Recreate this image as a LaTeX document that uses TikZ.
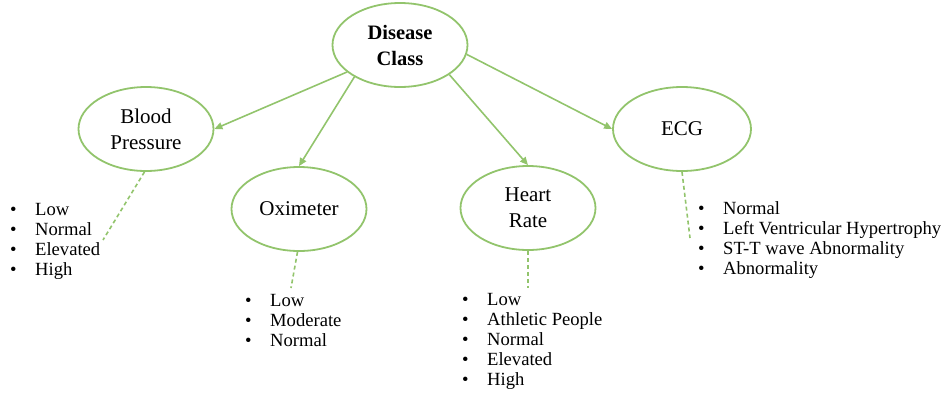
\documentclass[tikz,border=0pt]{standalone}
\usepackage{fontspec}
\setmainfont{Liberation Serif}
\usetikzlibrary{shapes.geometric,arrows.meta}
\definecolor{leaf}{RGB}{146,196,108}
\begin{document}
\begin{tikzpicture}[x=1pt,y=-1pt,
  oval/.style={draw=leaf,line width=1.8pt,ellipse,minimum width=135pt,minimum height=84pt,inner sep=0pt,align=center,font=\fontsize{21}{26}\selectfont},
  arr/.style={draw=leaf,line width=1.6pt,-{Triangle[length=8pt,width=7pt]}},
  dsh/.style={draw=leaf,line width=1.6pt,dash pattern=on 4pt off 3pt},
  lst/.style={anchor=north west,align=left,inner sep=0pt,font=\fontsize{18.6}{20}\selectfont}]
\useasboundingbox (0,0) rectangle (946,394);
\newcommand{\bul}{\makebox[25pt][l]{\textbullet}}
\node[oval,font=\bfseries\fontsize{20.5}{26}\selectfont] (dc) at (400,45) {Disease\\Class};
\node[oval] (bp) at (146,129) {Blood\\Pressure};
\node[oval] (ox) at (299,209) {Oximeter};
\node[oval] (hr) at (528,208) {Heart\\Rate};
\node[oval,minimum width=138pt] (ecg) at (682,129) {ECG};

\draw[arr] (dc.207) -- (bp.east);
\draw[arr] (dc.215) -- (ox.north);
\draw[arr] (dc.329) -- (hr.north);
\draw[arr] (dc.352) -- (ecg.west);

\node[lst] (bpl) at (10,203) {\bul Low\\\bul Normal\\\bul Elevated\\\bul High};
\node[lst] (oxl) at (245,294) {\bul Low\\\bul Moderate\\\bul Normal};
\node[lst] (hrl) at (462,293) {\bul Low\\\bul Athletic People\\\bul Normal\\\bul Elevated\\\bul High};
\node[lst] (ecgl) at (698,201) {\bul Normal\\\bul Left Ventricular Hypertrophy\\\bul ST-T wave Abnormality\\\bul Abnormality};

\coordinate (bpe) at (103,240);
\coordinate (oxe) at (291,288);
\coordinate (hre) at (528,288);
\coordinate (ecge) at (690,238);
\draw[dsh] (bp.268) -- (bpe);
\draw[dsh] (ox.268) -- (oxe);
\draw[dsh] (hr.south) -- (hre);
\draw[dsh] (ecg.south) -- (ecge);
\end{tikzpicture}
\end{document}
